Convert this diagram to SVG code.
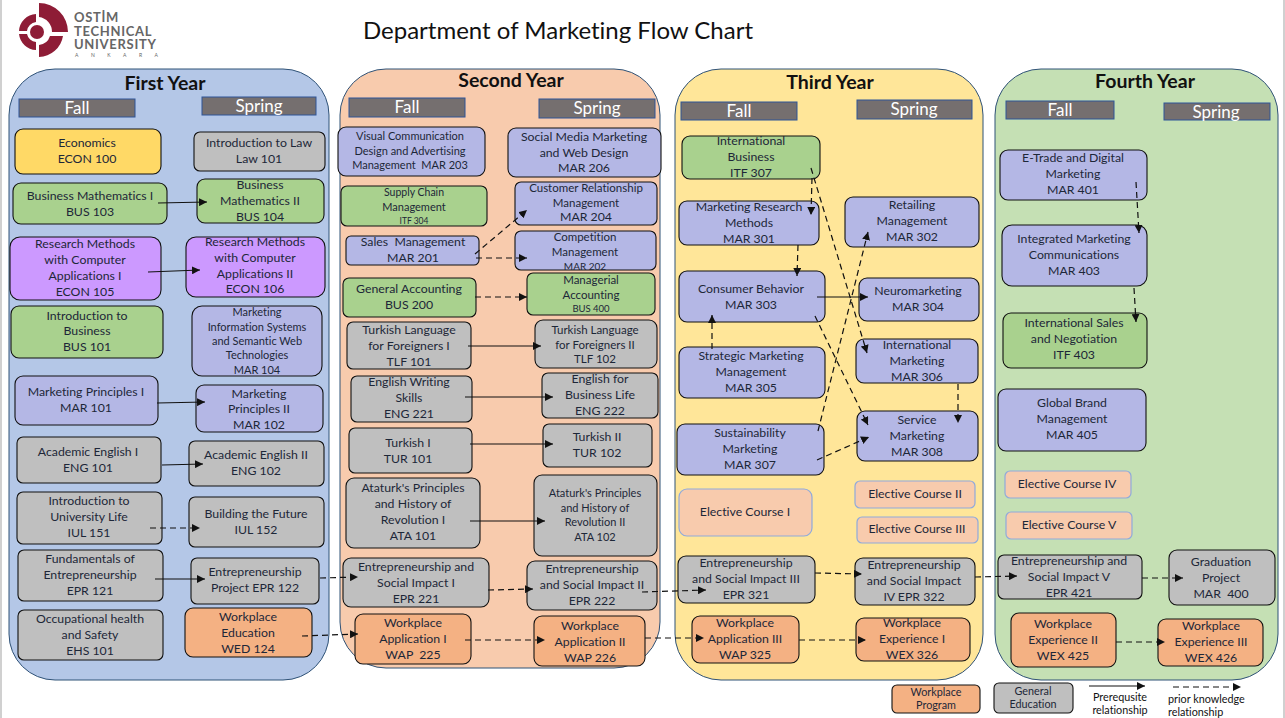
<svg xmlns="http://www.w3.org/2000/svg" width="1285" height="718" viewBox="0 0 1285 718">
<style>
text{font-family:"Lato","Open Sans","Liberation Sans",sans-serif;text-anchor:middle;fill:#1d2738;font-size:12.3px;font-variant-ligatures:none;white-space:pre}
.n{stroke:#111;stroke-width:1.1}
.y{fill:#ffd966}.g{fill:#bfbfbf}.a{fill:#a9d18e}.p{fill:#cc99ff}.l{fill:#b4b7e5}.o{fill:#f4b183}
.e{fill:#f8cbad;stroke:#8faadc;stroke-width:1.2}
.panel{stroke:#2f5277;stroke-width:1}
.term{fill:#756f6f;stroke:#2f5597;stroke-width:1}
.termt{fill:#fff;font-size:17px}
.yt{font-size:19.5px;font-weight:700;fill:#111}
.s{fill:none;stroke:#111;stroke-width:1.2;marker-end:url(#ah)}
.d{fill:none;stroke:#111;stroke-width:1.2;stroke-dasharray:6 4;marker-end:url(#ah)}
.lg{font-size:10.8px}
.lt{text-anchor:start;font-size:13px;fill:#666;font-weight:700;letter-spacing:.7px}
</style>
<defs><marker id="ah" markerUnits="userSpaceOnUse" markerWidth="9" markerHeight="8" refX="8" refY="4" orient="auto"><path d="M0 0L8 4L0 8Z" fill="#111"/></marker></defs>
<rect width="1285" height="718" fill="#fff"/>
<rect x="0" y="0" width="2" height="718" fill="#d0d0d0"/>
<rect x="1283" y="0" width="2" height="718" fill="#d0d0d0"/>
<g id="logo">
<path d="M39 3A29 29 0 0 1 68 32H52A15 15 0 0 0 39 17Z" fill="#8e1c36"/>
<path d="M36 14A18 18 0 0 0 19 31H27A10 10 0 0 1 36 22Z" fill="#8e1c36"/>
<path d="M19 34A18 18 0 0 0 36 50V42A10 10 0 0 1 27 34Z" fill="#8e1c36"/>
<path d="M39 57A25 25 0 0 0 63 36H50A13 13 0 0 1 39 45Z" fill="#8e1c36"/>
<circle cx="37" cy="32" r="7" fill="#8e1c36"/>
<text class="lt" x="74" y="22">OSTİM</text>
<text class="lt" x="74" y="36">TECHNICAL</text>
<text class="lt" x="74" y="49">UNIVERSITY</text>
<text x="75" y="57" style="text-anchor:start;font-size:5px;fill:#666;letter-spacing:12.500px">ANKARA</text>
</g>
<text id="title" x="558" y="39" style="font-size:24px;fill:#111">Department of Marketing Flow Chart</text>
<g id="panels">
<rect class="panel" x="9" y="69" width="320" height="611" rx="46" fill="#b4c7e7"/>
<rect class="panel" x="340" y="69" width="320" height="599" rx="46" fill="#f8cbad"/>
<rect class="panel" x="675" y="69" width="308" height="611" rx="46" fill="#ffe699"/>
<rect class="panel" x="995" y="69" width="283" height="611" rx="46" fill="#c5e0b4"/>
<text class="yt" x="165" y="90">First Year</text>
<text class="yt" x="511" y="87">Second Year</text>
<text class="yt" x="830" y="89">Third Year</text>
<text class="yt" x="1145" y="88">Fourth Year</text>
<rect class="term" x="19" y="99" width="116" height="18"/><text class="termt" x="77" y="114">Fall</text>
<rect class="term" x="202" y="97" width="114" height="18"/><text class="termt" x="259" y="112">Spring</text>
<rect class="term" x="349" y="98" width="116" height="19"/><text class="termt" x="407" y="113">Fall</text>
<rect class="term" x="539" y="99" width="116" height="19"/><text class="termt" x="597" y="114">Spring</text>
<rect class="term" x="681" y="102" width="116" height="18"/><text class="termt" x="739" y="117">Fall</text>
<rect class="term" x="857" y="100" width="115" height="19"/><text class="termt" x="914" y="115">Spring</text>
<rect class="term" x="1006" y="101" width="108" height="18"/><text class="termt" x="1060" y="116">Fall</text>
<rect class="term" x="1164" y="103" width="106" height="17"/><text class="termt" x="1216" y="118">Spring</text>
</g>
<g id="econ100"><rect class="n y" x="15" y="129" width="146" height="45" rx="8"/><text x="87" y="147">Economics</text><text x="87" y="163">ECON 100</text></g>
<g id="law101"><rect class="n g" x="194" y="132" width="131" height="39" rx="6"/><text x="259" y="147">Introduction to Law</text><text x="259" y="163">Law 101</text></g>
<g id="bus103"><rect class="n a" x="13" y="183" width="154" height="41" rx="8"/><text x="90" y="200">Business Mathematics I</text><text x="90" y="216">BUS 103</text></g>
<g id="bus104"><rect class="n a" x="197" y="179" width="127" height="44" rx="8"/><text x="260" y="189">Business</text><text x="260" y="205">Mathematics II</text><text x="260" y="221">BUS 104</text></g>
<g id="econ105"><rect class="n p" x="10" y="237" width="151" height="63" rx="10"/><text x="85" y="248">Research Methods</text><text x="85" y="264">with Computer</text><text x="85" y="280">Applications I</text><text x="85" y="296">ECON 105</text></g>
<g id="econ106"><rect class="n p" x="186" y="237" width="139" height="60" rx="10"/><text x="255" y="246">Research Methods</text><text x="255" y="262">with Computer</text><text x="255" y="278">Applications II</text><text x="255" y="293">ECON 106</text></g>
<g id="bus101"><rect class="n a" x="11" y="306" width="152" height="52" rx="8"/><text x="87" y="320">Introduction to</text><text x="87" y="335">Business</text><text x="87" y="351">BUS 101</text></g>
<g id="mar104"><rect class="n l" x="192" y="306" width="130" height="70" rx="10"/><text x="257" y="316" style="font-size:11px">Marketing</text><text x="257" y="331" style="font-size:11px">Information Systems</text><text x="257" y="345" style="font-size:11px">and Semantic Web</text><text x="257" y="359" style="font-size:11px">Technologies</text><text x="257" y="374" style="font-size:11px">MAR 104</text></g>
<g id="mar101"><rect class="n l" x="15" y="376" width="143" height="49" rx="8"/><text x="86" y="396">Marketing Principles I</text><text x="86" y="412">MAR 101</text></g>
<g id="mar102"><rect class="n l" x="196" y="385" width="127" height="47" rx="8"/><text x="259" y="398">Marketing</text><text x="259" y="413">Principles II</text><text x="259" y="429">MAR 102</text></g>
<g id="eng101"><rect class="n g" x="17" y="437" width="144" height="46" rx="6"/><text x="88" y="456">Academic English I</text><text x="88" y="472">ENG 101</text></g>
<g id="eng102"><rect class="n g" x="189" y="441" width="135" height="45" rx="6"/><text x="256" y="459">Academic English II</text><text x="256" y="475">ENG 102</text></g>
<g id="iul151"><rect class="n g" x="17" y="492" width="145" height="52" rx="6"/><text x="89" y="505">Introduction to</text><text x="89" y="521">University Life</text><text x="89" y="537">IUL 151</text></g>
<g id="iul152"><rect class="n g" x="189" y="497" width="135" height="50" rx="6"/><text x="256" y="518">Building the Future</text><text x="256" y="534">IUL 152</text></g>
<g id="epr121"><rect class="n g" x="18" y="550" width="145" height="51" rx="6"/><text x="90" y="563">Fundamentals of</text><text x="90" y="579">Entrepreneurship</text><text x="90" y="595">EPR 121</text></g>
<g id="epr122"><rect class="n g" x="191" y="558" width="128" height="46" rx="6"/><text x="255" y="576">Entrepreneurship</text><text x="255" y="592">Project EPR 122</text></g>
<g id="ehs101"><rect class="n g" x="18" y="610" width="145" height="50" rx="6"/><text x="90" y="623">Occupational health</text><text x="90" y="639">and Safety</text><text x="90" y="655">EHS 101</text></g>
<g id="wed124"><rect class="n o" x="185" y="608" width="127" height="49" rx="8"/><text x="248" y="621">Workplace</text><text x="248" y="637">Education</text><text x="248" y="653">WED 124</text></g>

<g id="mar203"><rect class="n l" x="338" y="127" width="147" height="49" rx="8"/><text x="410" y="140" style="font-size:11px">Visual Communication</text><text x="410" y="155" style="font-size:11px">Design and Advertising</text><text x="410" y="169" style="font-size:11px">Management  MAR 203</text></g>
<g id="mar206"><rect class="n l" x="508" y="128" width="153" height="49" rx="8"/><text x="584" y="141">Social Media Marketing</text><text x="584" y="157">and Web Design</text><text x="584" y="172">MAR 206</text></g>
<g id="itf304"><rect class="n a" x="341" y="186" width="146" height="40" rx="6"/><text x="414" y="196" style="font-size:10.500px">Supply Chain</text><text x="414" y="211" style="font-size:11px">Management</text><text x="414" y="224" style="font-size:8.500px">ITF 304</text></g>
<g id="mar204"><rect class="n l" x="515" y="182" width="142" height="43" rx="6"/><text x="586" y="192" style="font-size:11.500px">Customer Relationship</text><text x="586" y="207" style="font-size:11.500px">Management</text><text x="586" y="221">MAR 204</text></g>
<g id="mar201"><rect class="n l" x="346" y="236" width="133" height="29" rx="5"/><text x="413" y="246">Sales  Management</text><text x="413" y="262">MAR 201</text></g>
<g id="mar202"><rect class="n l" x="515" y="231" width="141" height="39" rx="6"/><text x="585" y="241" style="font-size:11.500px">Competition</text><text x="585" y="256" style="font-size:11.500px">Management</text><text x="585" y="270" style="font-size:10px">MAR 202</text></g>
<g id="bus200"><rect class="n a" x="343" y="278" width="133" height="39" rx="6"/><text x="409" y="293">General Accounting</text><text x="409" y="309">BUS 200</text></g>
<g id="bus400"><rect class="n a" x="527" y="273" width="128" height="42" rx="6"/><text x="591" y="284" style="font-size:11.500px">Managerial</text><text x="591" y="299" style="font-size:11.500px">Accounting</text><text x="591" y="312" style="font-size:9.500px">BUS 400</text></g>
<g id="tlf101"><rect class="n g" x="347" y="322" width="124" height="47" rx="6"/><text x="409" y="334">Turkish Language</text><text x="409" y="350">for Foreigners I</text><text x="409" y="366">TLF 101</text></g>
<g id="tlf102"><rect class="n g" x="535" y="320" width="122" height="48" rx="8"/><text x="595" y="334" style="font-size:11.500px">Turkish Language</text><text x="595" y="349" style="font-size:11.500px">for Foreigners II</text><text x="595" y="363" style="font-size:11.500px">TLF 102</text></g>
<g id="eng221"><rect class="n g" x="351" y="376" width="121" height="46" rx="6"/><text x="409" y="386">English Writing</text><text x="409" y="402">Skills</text><text x="409" y="418">ENG 221</text></g>
<g id="eng222"><rect class="n g" x="542" y="373" width="116" height="45" rx="6"/><text x="600" y="383">English for</text><text x="600" y="399">Business Life</text><text x="600" y="415">ENG 222</text></g>
<g id="tur101"><rect class="n g" x="349" y="428" width="123" height="45" rx="6"/><text x="408" y="447">Turkish I</text><text x="408" y="463">TUR 101</text></g>
<g id="tur102"><rect class="n g" x="543" y="424" width="109" height="43" rx="6"/><text x="597" y="441">Turkish II</text><text x="597" y="457">TUR 102</text></g>
<g id="ata101"><rect class="n g" x="346" y="478" width="134" height="70" rx="8"/><text x="413" y="492">Ataturk's Principles</text><text x="413" y="508">and History of</text><text x="413" y="524">Revolution I</text><text x="413" y="540">ATA 101</text></g>
<g id="ata102"><rect class="n g" x="534" y="475" width="123" height="81" rx="8"/><text x="595" y="497" style="font-size:11px">Ataturk's Principles</text><text x="595" y="512" style="font-size:11px">and History of</text><text x="595" y="526" style="font-size:11px">Revolution II</text><text x="595" y="541" style="font-size:11px">ATA 102</text></g>
<g id="epr221"><rect class="n g" x="343" y="558" width="146" height="49" rx="8"/><text x="416" y="571">Entrepreneurship and</text><text x="416" y="587">Social Impact I</text><text x="416" y="603">EPR 221</text></g>
<g id="epr222"><rect class="n g" x="527" y="561" width="130" height="49" rx="8"/><text x="592" y="573">Entrepreneurship</text><text x="592" y="589">and Social Impact II</text><text x="592" y="605">EPR 222</text></g>
<g id="wap225"><rect class="n o" x="355" y="614" width="116" height="50" rx="8"/><text x="413" y="627">Workplace</text><text x="413" y="643">Application I</text><text x="413" y="659">WAP  225</text></g>
<g id="wap226"><rect class="n o" x="534" y="616" width="111" height="50" rx="8"/><text x="590" y="630">Workplace</text><text x="590" y="646">Application II</text><text x="590" y="662">WAP 226</text></g>

<g id="itf307"><rect class="n a" x="682" y="136" width="138" height="43" rx="8"/><text x="751" y="145">International</text><text x="751" y="161">Business</text><text x="751" y="177">ITF 307</text></g>
<g id="mar301"><rect class="n l" x="679" y="201" width="140" height="44" rx="8"/><text x="749" y="211">Marketing Research</text><text x="749" y="227">Methods</text><text x="749" y="243">MAR 301</text></g>
<g id="mar302"><rect class="n l" x="845" y="197" width="134" height="50" rx="8"/><text x="912" y="209">Retailing</text><text x="912" y="225">Management</text><text x="912" y="241">MAR 302</text></g>
<g id="mar303"><rect class="n l" x="679" y="271" width="146" height="51" rx="8"/><text x="751" y="293">Consumer Behavior</text><text x="751" y="309">MAR 303</text></g>
<g id="mar304"><rect class="n l" x="859" y="278" width="120" height="43" rx="8"/><text x="918" y="295">Neuromarketing</text><text x="918" y="311">MAR 304</text></g>
<g id="mar305"><rect class="n l" x="679" y="347" width="146" height="51" rx="8"/><text x="751" y="360">Strategic Marketing</text><text x="751" y="376">Management</text><text x="751" y="392">MAR 305</text></g>
<g id="mar306"><rect class="n l" x="856" y="339" width="122" height="44" rx="8"/><text x="917" y="349">International</text><text x="917" y="365">Marketing</text><text x="917" y="381">MAR 306</text></g>
<g id="mar307"><rect class="n l" x="677" y="424" width="147" height="51" rx="8"/><text x="750" y="437">Sustainability</text><text x="750" y="453">Marketing</text><text x="750" y="469">MAR 307</text></g>
<g id="mar308"><rect class="n l" x="857" y="411" width="121" height="50" rx="8"/><text x="917" y="424">Service</text><text x="917" y="440">Marketing</text><text x="917" y="456">MAR 308</text></g>
<g id="elec1"><rect class="e" x="679" y="489" width="133" height="47" rx="8"/><text x="745" y="516">Elective Course I</text></g>
<g id="elec2"><rect class="e" x="855" y="481" width="120" height="27" rx="5"/><text x="915" y="498">Elective Course II</text></g>
<g id="elec3"><rect class="e" x="857" y="517" width="121" height="26" rx="5"/><text x="917" y="533">Elective Course III</text></g>
<g id="epr321"><rect class="n g" x="678" y="556" width="137" height="47" rx="8"/><text x="746" y="567">Entrepreneurship</text><text x="746" y="583">and Social Impact III</text><text x="746" y="599">EPR 321</text></g>
<g id="epr322"><rect class="n g" x="855" y="558" width="120" height="47" rx="8"/><text x="914" y="569">Entrepreneurship</text><text x="914" y="585">and Social Impact</text><text x="914" y="601">IV EPR 322</text></g>
<g id="wap325"><rect class="n o" x="692" y="616" width="107" height="47" rx="8"/><text x="745" y="627">Workplace</text><text x="745" y="643">Application III</text><text x="745" y="659">WAP 325</text></g>
<g id="wex326"><rect class="n o" x="856" y="618" width="114" height="43" rx="8"/><text x="912" y="627">Workplace</text><text x="912" y="643">Experience I</text><text x="912" y="659">WEX 326</text></g>

<g id="mar401"><rect class="n l" x="1000" y="150" width="147" height="50" rx="8"/><text x="1073" y="162">E-Trade and Digital</text><text x="1073" y="178">Marketing</text><text x="1073" y="194">MAR 401</text></g>
<g id="mar403"><rect class="n l" x="1002" y="225" width="145" height="61" rx="10"/><text x="1074" y="243">Integrated Marketing</text><text x="1074" y="259">Communications</text><text x="1074" y="275">MAR 403</text></g>
<g id="itf403"><rect class="n a" x="1003" y="313" width="144" height="55" rx="8"/><text x="1074" y="327">International Sales</text><text x="1074" y="343">and Negotiation</text><text x="1074" y="359">ITF 403</text></g>
<g id="mar405"><rect class="n l" x="998" y="389" width="148" height="62" rx="8"/><text x="1072" y="407">Global Brand</text><text x="1072" y="423">Management</text><text x="1072" y="439">MAR 405</text></g>
<g id="elec4"><rect class="e" x="1005" y="471" width="126" height="27" rx="5"/><text x="1067" y="488">Elective Course IV</text></g>
<g id="elec5"><rect class="e" x="1006" y="512" width="126" height="27" rx="5"/><text x="1069" y="529">Elective Course V</text></g>
<g id="epr421"><rect class="n g" x="998" y="555" width="144" height="44" rx="6"/><text x="1069" y="565">Entrepreneurship and</text><text x="1069" y="581">Social Impact V</text><text x="1069" y="597">EPR 421</text></g>
<g id="mar400"><rect class="n g" x="1169" y="550" width="106" height="55" rx="8"/><text x="1221" y="566">Graduation</text><text x="1221" y="582">Project</text><text x="1221" y="598">MAR  400</text></g>
<g id="wex425"><rect class="n o" x="1011" y="613" width="105" height="54" rx="8"/><text x="1063" y="628">Workplace</text><text x="1063" y="644">Experience II</text><text x="1063" y="660">WEX 425</text></g>
<g id="wex426"><rect class="n o" x="1158" y="619" width="105" height="47" rx="8"/><text x="1211" y="630">Workplace</text><text x="1211" y="646">Experience III</text><text x="1211" y="662">WEX 426</text></g>

<g id="legend-workplace"><rect class="n o" x="892" y="685" width="88" height="28" rx="5"/><text class="lg" x="936" y="696">Workplace</text><text class="lg" x="936" y="709">Program</text></g>
<g id="legend-general"><rect class="n g" x="994" y="683" width="79" height="30" rx="5"/><text class="lg" x="1033" y="695">General</text><text class="lg" x="1033" y="708">Education</text></g>
<text class="lg" x="1120" y="701" style="fill:#111">Prerequsite</text><text class="lg" x="1120" y="714" style="fill:#111">relationship</text>
<text class="lg" x="1168" y="703" style="text-anchor:start;fill:#111">prior knowledge</text><text class="lg" x="1168" y="716" style="text-anchor:start;fill:#111">relationship</text>

<g id="connectors">
<path class="s" d="M158 203L207 202"/><path class="s" d="M148 272L200 270"/><path class="s" d="M157 403L205 402"/><path class="s" d="M162 465L203 464"/>
<path class="d" d="M150 528L200 528"/><path class="s" d="M155 579L205 579"/><path class="d" d="M302 636L358 634"/><path class="d" d="M320 578L358 577"/>
<path class="d" d="M488 590L533 589"/><path class="d" d="M465 640L545 640"/><path class="d" d="M642 592L706 590"/><path class="d" d="M645 638L704 638"/>
<path class="d" d="M815 573L862 574"/><path class="d" d="M799 640L866 640"/><path class="d" d="M975 577L1017 576"/><path class="d" d="M1142 578L1183 578"/><path class="d" d="M1116 642L1165 642"/>
<path class="d" d="M1136 182L1139 233"/><path class="d" d="M1134 288L1136 322"/>
<path class="d" d="M475 254L527 210"/><path class="d" d="M476 258L527 258"/><path class="d" d="M475 297L527 297"/><path class="s" d="M468 346L541 346"/><path class="s" d="M465 397L553 397"/><path class="s" d="M470 444L553 444"/><path class="s" d="M470 521L545 521"/>
<path class="d" d="M812 178L811 215"/><path class="d" d="M811 168L867 353"/><path class="d" d="M798 245L797 276"/><path class="s" d="M817 297L868 297"/><path class="d" d="M712 349L712 315"/><path class="d" d="M815 316L868 425"/><path class="d" d="M818 431L868 232"/><path class="d" d="M817 460L869 437"/><path class="d" d="M958 384L958 423"/>
<path class="s" d="M1089 686L1145 686"/><path class="d" d="M1173 687L1241 687"/>
</g>
</svg>
